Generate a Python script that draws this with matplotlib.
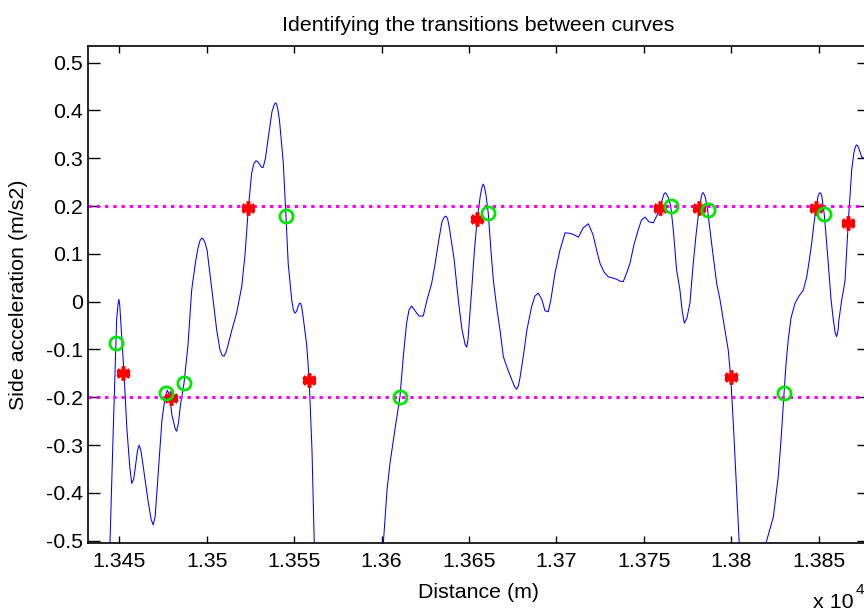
import numpy as np
import matplotlib
matplotlib.use('Agg')
import matplotlib.pyplot as plt
from matplotlib.ticker import FuncFormatter, MultipleLocator

plt.rcParams['font.family'] = ['Liberation Sans', 'DejaVu Sans']
plt.rcParams['axes.unicode_minus'] = False

# side acceleration along the track, three pieces (curve leaves the y range in between)
dist_a = [13443.7, 13444.7, 13446.4, 13448.5, 13449.3, 13449.8, 13450.3, 13450.8, 13452.7, 13454.4,
          13456.0, 13457.1, 13458.2, 13459.0, 13460.4, 13461.4, 13462.4, 13463.6, 13466.4, 13468.2,
          13469.4, 13470.5, 13471.6, 13474.4, 13476.2, 13477.5, 13478.9, 13480.1, 13482.0, 13482.8,
          13483.8, 13485.0, 13487.0, 13489.3, 13491.4, 13493.6, 13495.0, 13496.1, 13497.1, 13498.0,
          13499.0, 13500.2, 13503.0, 13505.7, 13507.6, 13508.8, 13509.9, 13511.0, 13512.2, 13514.4,
          13517.1, 13520.0, 13521.9, 13523.8, 13525.7, 13527.0, 13528.2, 13529.4, 13530.5, 13531.4,
          13532.3, 13533.6, 13535.0, 13537.3, 13538.6, 13539.4, 13540.0, 13540.7, 13541.6, 13543.8,
          13545.3, 13546.6, 13548.6, 13549.6, 13550.5, 13551.4, 13552.2, 13552.9, 13553.6, 13554.3,
          13555.0, 13557.2, 13558.6, 13560.2, 13561.5, 13562.5]
acc_a = [-0.600, -0.505, -0.289, -0.038, -0.005, 0.005, -0.008, -0.038, -0.149, -0.268,
         -0.345, -0.380, -0.372, -0.352, -0.312, -0.300, -0.312, -0.342, -0.415, -0.455,
         -0.467, -0.450, -0.394, -0.248, -0.200, -0.185, -0.198, -0.237, -0.266, -0.271,
         -0.255, -0.216, -0.171, -0.091, 0.024, 0.083, 0.112, 0.127, 0.133, 0.131,
         0.124, 0.108, 0.024, -0.059, -0.101, -0.112, -0.114, -0.106, -0.091, -0.059,
         -0.024, 0.031, 0.098, 0.195, 0.269, 0.289, 0.295, 0.292, 0.286, 0.281,
         0.281, 0.300, 0.338, 0.397, 0.412, 0.416, 0.413, 0.402, 0.380, 0.290,
         0.180, 0.080, 0.004, -0.018, -0.024, -0.020, -0.011, -0.004, -0.003, -0.010,
         -0.028, -0.091, -0.164, -0.310, -0.505, -0.624]

dist_b = [13599.6, 13601.0, 13603.1, 13604.8, 13607.6, 13610.5, 13612.4, 13614.3, 13615.7, 13617.2,
          13619.7, 13621.4, 13623.8, 13626.0, 13628.6, 13630.5, 13632.4, 13634.5, 13635.8, 13636.8,
          13637.7, 13638.5, 13640.1, 13641.4, 13642.9, 13644.2, 13646.0, 13647.8, 13648.7, 13649.4,
          13650.0, 13651.5, 13653.1, 13654.7, 13656.5, 13657.4, 13658.1, 13658.8, 13659.7, 13661.0,
          13662.5, 13663.9, 13666.0, 13667.7, 13669.6, 13672.3, 13674.5, 13676.2, 13677.2, 13678.2,
          13679.1, 13681.0, 13683.1, 13685.8, 13687.7, 13689.6, 13691.7, 13693.4, 13695.3, 13696.8,
          13699.1, 13702.0, 13704.9, 13707.7, 13710.0, 13712.5, 13715.2, 13718.2, 13720.9, 13723.2,
          13724.9, 13727.2, 13729.6, 13731.7, 13734.4, 13736.3, 13738.2, 13740.3, 13742.0, 13744.3,
          13746.8, 13748.6, 13750.6, 13752.9, 13755.4, 13757.5, 13759.2, 13760.9, 13761.6, 13762.2,
          13763.0, 13764.0, 13765.3, 13766.8, 13768.7, 13770.6, 13771.8, 13773.1, 13774.6, 13776.3,
          13778.2, 13779.8, 13781.6, 13782.9, 13783.4, 13783.9, 13784.5, 13785.2, 13786.4, 13788.7,
          13791.6, 13793.5, 13796.3, 13798.2, 13799.6, 13801.1, 13803.0, 13804.5, 13805.5]
acc_b = [-0.624, -0.505, -0.394, -0.338, -0.268, -0.199, -0.115, -0.045, -0.017, -0.009,
         -0.022, -0.030, -0.030, 0.004, 0.038, 0.077, 0.122, 0.167, 0.177, 0.179,
         0.174, 0.160, 0.122, 0.091, 0.038, -0.007, -0.059, -0.090, -0.095, -0.080,
         -0.049, 0.024, 0.108, 0.174, 0.223, 0.240, 0.246, 0.240, 0.223, 0.185,
         0.108, 0.045, -0.017, -0.059, -0.115, -0.143, -0.164, -0.179, -0.183, -0.176,
         -0.160, -0.115, -0.059, -0.010, 0.012, 0.018, 0.004, -0.019, -0.021, 0.004,
         0.059, 0.108, 0.144, 0.143, 0.140, 0.135, 0.154, 0.163, 0.140, 0.104,
         0.080, 0.062, 0.052, 0.050, 0.047, 0.043, 0.042, 0.062, 0.080, 0.119,
         0.151, 0.171, 0.177, 0.167, 0.165, 0.181, 0.195, 0.219, 0.226, 0.228,
         0.225, 0.217, 0.201, 0.150, 0.066, 0.024, -0.017, -0.045, -0.034, -0.003,
         0.080, 0.140, 0.195, 0.221, 0.227, 0.228, 0.224, 0.217, 0.192, 0.122,
         0.038, 0.004, -0.059, -0.101, -0.157, -0.254, -0.394, -0.505, -0.582]

dist_c = [13817.5, 13819.8, 13824.0, 13826.8, 13828.4, 13830.1, 13831.2, 13832.5, 13834.1, 13836.4,
          13838.7, 13841.1, 13843.1, 13844.4, 13845.9, 13847.2, 13848.4, 13849.5, 13850.1, 13850.7,
          13851.2, 13851.8, 13853.1, 13854.1, 13855.4, 13857.0, 13858.3, 13859.4, 13860.2, 13861.0,
          13861.5, 13863.1, 13864.1, 13865.0, 13866.8, 13868.8, 13870.1, 13871.0, 13871.6, 13872.4,
          13873.2, 13874.5, 13875.8, 13878.1]
acc_c = [-0.624, -0.505, -0.450, -0.366, -0.289, -0.192, -0.132, -0.080, -0.034, -0.003,
         0.012, 0.024, 0.052, 0.083, 0.122, 0.163, 0.195, 0.219, 0.226, 0.228,
         0.226, 0.219, 0.183, 0.140, 0.080, 0.004, -0.038, -0.066, -0.073, -0.060,
         -0.038, 0.004, 0.024, 0.045, 0.164, 0.276, 0.313, 0.325, 0.328, 0.325,
         0.317, 0.303, 0.300, 0.301]

# start / end of each curve
start_x = [13452.3, 13479.4, 13523.8, 13558.6, 13654.7, 13759.2, 13781.6, 13799.6, 13848.4, 13866.8]
start_y = [-0.149, -0.202, 0.195, -0.164, 0.174, 0.195, 0.195, -0.157, 0.195, 0.164]
end_x = [13447.9, 13476.5, 13487.2, 13545.3, 13610.5, 13661.0, 13765.3, 13786.4, 13830.1, 13853.1]
end_y = [-0.087, -0.192, -0.171, 0.180, -0.199, 0.185, 0.201, 0.192, -0.192, 0.183]

threshold = 0.2

fig = plt.figure(figsize=(8.64, 6.13), dpi=100)
ax = fig.add_axes([0.1022, 0.1137, 0.9036, 0.8113])

for d, a in [(dist_a, acc_a), (dist_b, acc_b), (dist_c, acc_c)]:
    ax.plot(d, a, color='#0000ff', lw=0.75)

for th in (threshold, -threshold):
    ax.axhline(th, color='#ff00ff', lw=2.2, linestyle=(0, (1.1, 1.6)), dash_capstyle='butt')

# asterisk markers, drawn twice (rotated) so they fill out into a blob
ax.plot(start_x, start_y, linestyle='none', marker=(6, 2, 0), ms=10, color='#ff0000', mew=2.6)
ax.plot(start_x, start_y, linestyle='none', marker=(4, 2, 0), ms=8, color='#ff0000', mew=2.2)
ax.plot(end_x, end_y, linestyle='none', marker='o', ms=9.5, mfc='none', mec='#00e600', mew=2.0)

ax.set_xlim(13432.3, 13878.7)
ax.set_ylim(-0.5054, 0.5349)
ax.xaxis.set_major_locator(MultipleLocator(50))
ax.yaxis.set_major_locator(MultipleLocator(0.1))
ax.xaxis.set_major_formatter(FuncFormatter(lambda v, p: '%g' % round(v / 1e4, 4)))
ax.yaxis.set_major_formatter(FuncFormatter(lambda v, p: '%g' % round(v, 2)))

ax.tick_params(axis='both', direction='in', top=True, right=True, labelsize=15.4, width=1.0)
ax.tick_params(axis='x', length=5, pad=6)
ax.tick_params(axis='y', length=8.5, pad=4)
for s in ax.spines.values():
    s.set_linewidth(1.2)

ax.set_title('Identifying the transitions between curves', fontsize=15.4, pad=11)
ax.set_xlabel('Distance (m)', fontsize=15.4, labelpad=9)
ax.set_ylabel('Side acceleration (m/s2)', fontsize=15.4, labelpad=13)

fig.text(813 / 864, 1 - 612 / 613, 'x 10', fontsize=15.4, ha='left', va='bottom')
fig.text(856 / 864, 1 - 597 / 613, '4', fontsize=11, ha='left', va='bottom')

fig.savefig('out.png', dpi=100)
